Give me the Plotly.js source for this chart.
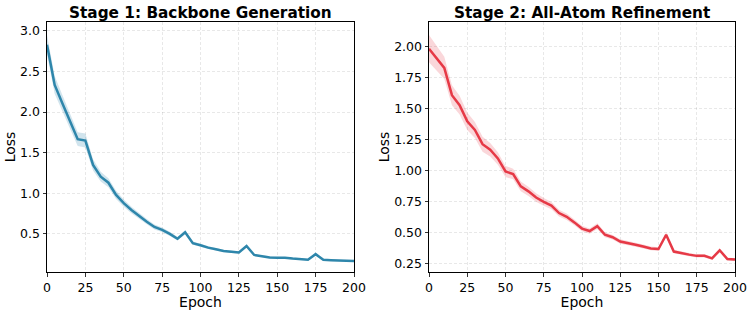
<!DOCTYPE html>
<html>
<head>
<meta charset="utf-8">
<script src="https://cdn.plot.ly/plotly-3.0.1.min.js"></script>
<style>
  html, body { margin: 0; padding: 0; background: #ffffff; }
  #chart { width: 753px; height: 314px; }
</style>
</head>
<body>
<div id="chart"></div>
<script>
// Training epochs (logged every 5 epochs)
const epochs = [0, 5, 10, 15, 20, 25, 30, 35, 40, 45, 50, 55, 60, 65, 70, 75, 80, 85, 90, 95,
  100, 105, 110, 115, 120, 125, 130, 135, 140, 145, 150, 155, 160, 165, 170, 175, 180, 185, 190, 195, 200];

// Stage 1: backbone generation loss (mean and spread over runs)
const stage1Loss = [2.83, 2.335, 2.11, 1.89, 1.667, 1.65, 1.35, 1.205, 1.13, 0.98, 0.878, 0.795, 0.72, 0.65,
  0.585, 0.55, 0.50, 0.44, 0.52, 0.385, 0.36, 0.33, 0.31, 0.29, 0.28, 0.27, 0.35, 0.24, 0.225, 0.21,
  0.205, 0.205, 0.195, 0.19, 0.18, 0.25, 0.18, 0.175, 0.172, 0.17, 0.165];
const stage1Std = [0.12, 0.11, 0.10, 0.09, 0.085, 0.085, 0.07, 0.06, 0.055, 0.05, 0.045, 0.04, 0.036, 0.033,
  0.03, 0.028, 0.025, 0.022, 0.026, 0.02, 0.018, 0.017, 0.016, 0.015, 0.014, 0.014, 0.017, 0.012, 0.011,
  0.011, 0.01, 0.01, 0.01, 0.01, 0.009, 0.012, 0.009, 0.009, 0.009, 0.009, 0.008];

// Stage 2: all-atom refinement loss (mean and spread over runs)
const stage2Loss = [1.985, 1.91, 1.83, 1.61, 1.53, 1.40, 1.33, 1.215, 1.17, 1.10, 0.995, 0.975, 0.875, 0.835,
  0.785, 0.75, 0.72, 0.66, 0.63, 0.585, 0.535, 0.515, 0.555, 0.485, 0.465, 0.43, 0.42, 0.405, 0.39, 0.375,
  0.37, 0.485, 0.35, 0.335, 0.325, 0.315, 0.315, 0.295, 0.36, 0.29, 0.285];
const stage2Std = [0.11, 0.10, 0.09, 0.08, 0.075, 0.07, 0.065, 0.06, 0.055, 0.05, 0.045, 0.043, 0.04,
  0.037, 0.034, 0.032, 0.03, 0.027, 0.026, 0.024, 0.022, 0.021, 0.023, 0.02, 0.019, 0.018, 0.017, 0.016,
  0.016, 0.015, 0.015, 0.019, 0.014, 0.013, 0.013, 0.013, 0.013, 0.012, 0.014, 0.012, 0.011];

const xTicks = [0, 25, 50, 75, 100, 125, 150, 175, 200];
const stage1YTicks = [0.5, 1.0, 1.5, 2.0, 2.5, 3.0];
const stage2YTicks = [0.25, 0.50, 0.75, 1.00, 1.25, 1.50, 1.75, 2.00];
const titles = ['Stage 1: Backbone Generation', 'Stage 2: All-Atom Refinement'];

const BLUE = '#2E86AB';
const RED = '#E63946';
const FONT = 'DejaVu Sans, sans-serif';

function bandTraces(loss, std, color, fill, xa, ya) {
  const lower = loss.map((v, i) => v - std[i]);
  const upper = loss.map((v, i) => v + std[i]);
  return [
    { x: epochs, y: lower, xaxis: xa, yaxis: ya, mode: 'lines', line: { width: 0 },
      hoverinfo: 'skip', showlegend: false },
    { x: epochs, y: upper, xaxis: xa, yaxis: ya, mode: 'lines', line: { width: 0 },
      fill: 'tonexty', fillcolor: fill, hoverinfo: 'skip', showlegend: false },
    { x: epochs, y: loss, xaxis: xa, yaxis: ya, mode: 'lines',
      line: { color: color, width: 2.5 }, showlegend: false }
  ];
}

const data = [].concat(
  bandTraces(stage1Loss, stage1Std, BLUE, 'rgba(46,134,171,0.22)', 'x', 'y'),
  bandTraces(stage2Loss, stage2Std, RED, 'rgba(230,57,70,0.2)', 'x2', 'y2')
);

const GRID = { showgrid: true, gridcolor: 'rgba(0,0,0,0.13)', griddash: '3px,2px', gridwidth: 0.7 };

function xAxis(domain, anchor) {
  return Object.assign({
    domain: domain, anchor: anchor, range: [0, 200],
    tickvals: xTicks, ticks: 'outside', ticklen: 3.5, tickwidth: 0.8, tickcolor: '#000',
    showline: true, mirror: true, linecolor: '#000', linewidth: 1,
    zeroline: false, tickfont: { family: FONT, size: 12.5, color: '#000' },
    title: { text: 'Epoch', font: { family: FONT, size: 14, color: '#000' }, standoff: 0 }
  }, GRID);
}
function yAxis(domain, anchor, range, ticks, fmt) {
  return Object.assign({
    domain: domain, anchor: anchor, range: range,
    tickvals: ticks, tickformat: fmt, ticks: 'outside', ticklen: 3.5, tickwidth: 0.8, tickcolor: '#000',
    showline: true, mirror: true, linecolor: '#000', linewidth: 1,
    zeroline: false, tickfont: { family: FONT, size: 12.5, color: '#000' },
    title: { text: 'Loss', font: { family: FONT, size: 14, color: '#000' }, standoff: 1 }
  }, GRID);
}

const W = 753, H = 314;
const yDom = [1 - 272 / H, 1 - 22 / H];
const dom1 = [47 / W, 354 / W];
const dom2 = [429 / W, 735 / W];

const layout = {
  width: W, height: H,
  margin: { l: 0, r: 0, t: 0, b: 0 },
  paper_bgcolor: '#fff', plot_bgcolor: '#fff',
  showlegend: false,
  xaxis: xAxis(dom1, 'y'),
  yaxis: yAxis(yDom, 'x', [0.03, 3.11], stage1YTicks, '.1f'),
  xaxis2: xAxis(dom2, 'y2'),
  yaxis2: yAxis(yDom, 'x2', [0.185, 2.2], stage2YTicks, '.2f'),
  annotations: [
    { text: '<b>' + titles[0] + '</b>', xref: 'paper', yref: 'paper',
      x: (dom1[0] + dom1[1]) / 2, y: 1 - 12.5 / H, xanchor: 'center', yanchor: 'middle',
      showarrow: false, font: { family: FONT, size: 15.3, color: '#000' } },
    { text: '<b>' + titles[1] + '</b>', xref: 'paper', yref: 'paper',
      x: (dom2[0] + dom2[1]) / 2, y: 1 - 12.5 / H, xanchor: 'center', yanchor: 'middle',
      showarrow: false, font: { family: FONT, size: 15.3, color: '#000' } }
  ]
};

Plotly.newPlot('chart', data, layout, { staticPlot: true, displayModeBar: false });
</script>
</body>
</html>
